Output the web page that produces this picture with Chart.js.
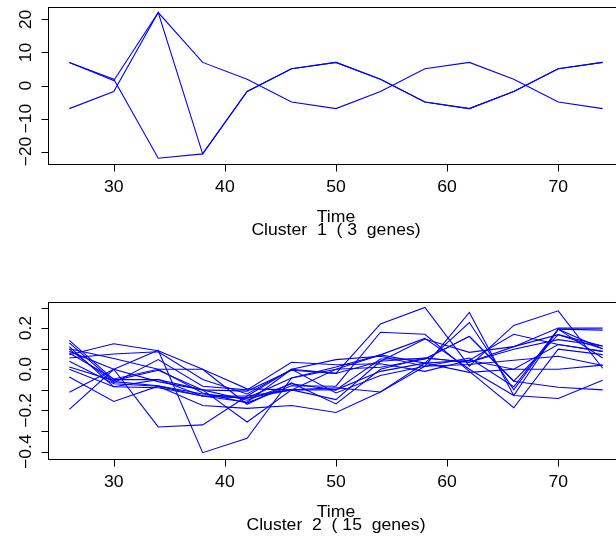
<!DOCTYPE html>
<html>
<head>
<meta charset="utf-8">
<script src="https://cdn.jsdelivr.net/npm/chart.js@4/dist/chart.umd.min.js"></script>
<style>
  html, body { margin: 0; padding: 0; background: #fff; overflow: hidden; }
  #wrap { position: relative; width: 616px; height: 537px; overflow: hidden; }
  canvas { position: absolute; left: 0; }
</style>
</head>
<body>
<div id="wrap">
  <canvas id="c1" width="640" height="268" style="top:0"></canvas>
  <canvas id="c2" width="640" height="269" style="top:268px"></canvas>
</div>
<script>
// time points (x axis)
const times = [26, 30, 34, 38, 42, 46, 50, 54, 58, 62, 66, 70, 74];

// cluster 1 (3 genes)
const c1g1 = [7, 1.9, -22, -20.7, -1.8, 5.1, 7, 1.9, -5, -7, -1.8, 5.1, 7];
const c1g2 = [7, 1.5, 22.1, -20.7, -1.8, 5.1, 7, 1.9, -5, -7, -1.8, 5.1, 7];
const c1g3 = [-7, -1.8, 22.1, 7, 1.9, -5, -7, -1.8, 5.1, 7, 1.9, -5, -7];

// cluster 2 (15 genes)
const c2g1  = [0.14, -0.05, -0.05, -0.1, -0.15, -0.07, -0.1, 0.05, 0.05, 0.16, -0.058, 0.168, 0.1];
const c2g2  = [0.128, -0.06, -0.08, -0.12, -0.14, -0.042, 0.0, 0.07, 0.03, 0.227, -0.1, 0.195, 0.19];
const c2g3  = [0.11, -0.085, -0.09, -0.13, -0.16, 0.0, 0.047, 0.063, 0.015, 0.276, -0.127, -0.142, -0.053];
const c2g4  = [0.10, 0.052, 0.0, 0.0, -0.095, -0.1, -0.147, 0.039, 0.147, 0.082, 0.11, 0.2, 0.2];
const c2g5  = [0.098, -0.066, 0.047, -0.082, -0.1, 0.034, 0.022, 0.027, -0.01, 0.044, 0.17, 0.12, 0.087];
const c2g6  = [0.087, 0.0, -0.06, -0.1, -0.106, -0.005, -0.02, 0.22, 0.30, 0.015, 0.213, 0.284, 0.005];
const c2g7  = [0.079, -0.047, 0.0, -0.115, -0.163, -0.08, -0.082, 0.18, 0.17, -0.01, -0.187, 0.098, 0.071];
const c2g8  = [0.071, 0.124, 0.09, 0.0, -0.17, -0.066, -0.168, 0.0, 0.055, 0.034, 0.097, 0.144, 0.113];
const c2g9  = [0.055, 0.074, 0.085, -0.05, -0.12, 0.0, -0.115, -0.03, 0.015, 0.023, 0.044, 0.063, 0.018];
const c2g10 = [0.039, -0.07, -0.082, -0.176, -0.19, -0.176, -0.21, -0.11, 0.015, 0.055, -0.085, 0.195, 0.055];
const c2g11 = [0.011, -0.055, -0.005, -0.1, -0.256, -0.1, -0.09, -0.11, 0.03, -0.015, 0.0, 0.0, 0.02];
const c2g12 = [0.0, -0.085, -0.05, -0.13, -0.14, -0.1, 0.0, 0.01, 0.05, 0.16, -0.058, -0.087, -0.1];
const c2g13 = [-0.037, -0.156, -0.082, -0.13, -0.13, -0.1, -0.1, -0.01, 0.03, 0.044, 0.0, 0.12, 0.087];
const c2g14 = [-0.111, 0.0, 0.092, -0.405, -0.335, -0.042, 0.011, 0.07, 0.15, 0.0, -0.127, 0.195, 0.1];
const c2g15 = [-0.195, 0.0, -0.28, -0.27, -0.13, 0.0, -0.02, 0.039, 0.055, 0.034, 0.11, 0.168, 0.113];

// axis ticks
const xTicks = [30, 40, 50, 60, 70];
const c1YTicks = [-20, -10, 0, 10, 20];
const c1YLabels = ['\u221220', '\u221210', '0', '10', '20'];
const c2YTicks = [-0.4, -0.3, -0.2, -0.1, 0.0, 0.1, 0.2, 0.3];
const c2YLabels = ['\u22120.4', '', '\u22120.2', '', '0.0', '', '0.2', ''];

const FONT = '16px "Liberation Sans", Arial, sans-serif';
const STRETCH = 1.1; // R's Helvetica comes out a bit wider

// R style range: data range stretched by 4% on each side
function rRange(arrs) {
    let lo = Infinity, hi = -Infinity;
    arrs.forEach(a => a.forEach(v => { lo = Math.min(lo, v); hi = Math.max(hi, v); }));
    const d = (hi - lo) * 0.04;
    return [lo - d, hi + d];
}

function drawText(ctx, txt, x, y, rot) {
    ctx.save();
    ctx.translate(x, y);
    if (rot) ctx.rotate(rot);
    ctx.scale(STRETCH, 1);
    ctx.fillText(txt, 0, 0);
    ctx.restore();
}

// draws box, ticks, labels and titles like R base graphics
const rAxes = {
    id: 'rAxes',
    afterDraw(chart, args, opts) {
        const ctx = chart.ctx;
        const area = chart.chartArea;
        const xs = chart.scales.x, ys = chart.scales.y;
        ctx.save();
        ctx.strokeStyle = '#000';
        ctx.lineWidth = 1;
        ctx.strokeRect(Math.round(area.left) + 0.5, Math.round(area.top) + 0.5,
            Math.round(area.right - area.left), Math.round(area.bottom - area.top));
        ctx.fillStyle = '#000';
        ctx.font = FONT;
        const bottom = Math.round(area.bottom) + 0.5;
        const left = Math.round(area.left) + 0.5;

        ctx.beginPath();
        xTicks.forEach(t => {
            const px = Math.round(xs.getPixelForValue(t)) + 0.5;
            ctx.moveTo(px, bottom);
            ctx.lineTo(px, bottom + 7);
        });
        opts.yTicks.forEach(t => {
            const py = Math.round(ys.getPixelForValue(t)) + 0.5;
            ctx.moveTo(left, py);
            ctx.lineTo(left - 7, py);
        });
        ctx.stroke();

        ctx.textAlign = 'center';
        ctx.textBaseline = 'alphabetic';
        xTicks.forEach(t => {
            drawText(ctx, String(t), xs.getPixelForValue(t), area.bottom + 28);
        });
        opts.yTicks.forEach((t, i) => {
            if (!opts.yLabels[i]) return;
            drawText(ctx, opts.yLabels[i], area.left - 17, ys.getPixelForValue(t), -Math.PI / 2);
        });

        const cx = (area.left + area.right) / 2;
        drawText(ctx, 'Time', cx, area.bottom + 58);
        drawText(ctx, opts.sub, cx, area.bottom + 71);
        ctx.restore();
    }
};

function makePanel(canvasId, genes, padding, yTicks, yLabels, sub) {
    const xr = rRange([times]);
    const yr = rRange(genes);
    const ctx = document.getElementById(canvasId).getContext('2d');
    return new Chart(ctx, {
        type: 'line',
        data: {
            datasets: genes.map(g => ({
                data: times.map((t, i) => ({ x: t, y: g[i] })),
                borderColor: '#0000ff',
                borderWidth: 1.1,
                pointRadius: 0,
                tension: 0,
                fill: false
            }))
        },
        options: {
            responsive: false,
            animation: false,
            devicePixelRatio: 1,
            layout: { padding: padding },
            plugins: {
                legend: { display: false },
                tooltip: { enabled: false },
                rAxes: { yTicks: yTicks, yLabels: yLabels, sub: sub }
            },
            scales: {
                x: { type: 'linear', min: xr[0], max: xr[1], display: false },
                y: { type: 'linear', min: yr[0], max: yr[1], display: false }
            }
        },
        plugins: [rAxes]
    });
}

makePanel('c1', [c1g1, c1g2, c1g3],
    { left: 48, right: 16, top: 6.7, bottom: 104 },
    c1YTicks, c1YLabels, 'Cluster  1  ( 3  genes)');

makePanel('c2', [c2g1, c2g2, c2g3, c2g4, c2g5, c2g6, c2g7, c2g8, c2g9, c2g10,
                 c2g11, c2g12, c2g13, c2g14, c2g15],
    { left: 48, right: 16, top: 33.7, bottom: 78.5 },
    c2YTicks, c2YLabels, 'Cluster  2  ( 15  genes)');
</script>
</body>
</html>
